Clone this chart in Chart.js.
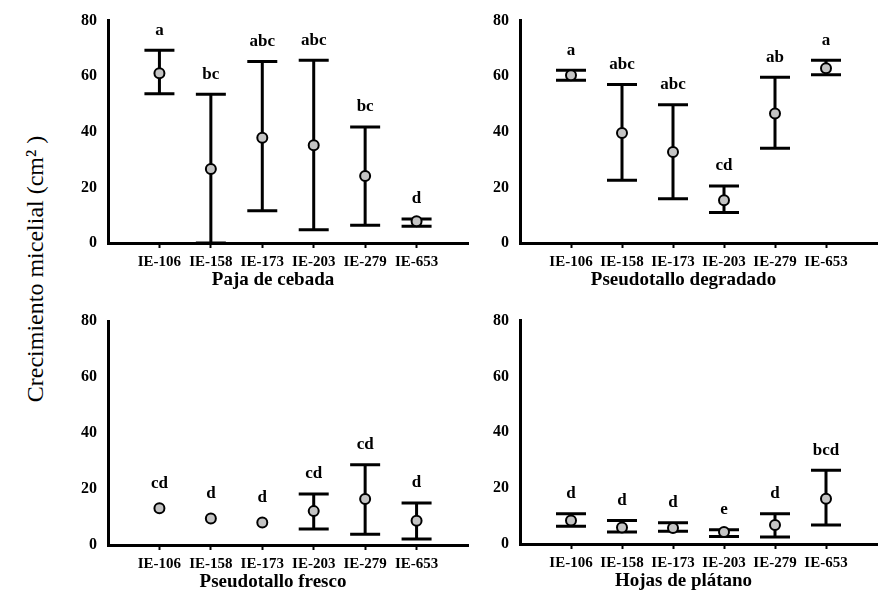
<!DOCTYPE html>
<html>
<head>
<meta charset="utf-8">
<script src="https://cdn.jsdelivr.net/npm/chart.js@4.4.1/dist/chart.umd.min.js"></script>
<style>
  html, body { margin: 0; padding: 0; background: #fff; overflow: hidden; }
  body { width: 884px; height: 599px; position: relative; }
  .panel { position: absolute; }
  #yTitle {
    position: absolute; left: 35px; top: 269px;
    transform: translate(-50%, -50%) rotate(-90deg);
    white-space: nowrap;
    font-family: 'Liberation Serif', 'Times New Roman', serif;
    font-size: 24px; color: #000;
  }
</style>
</head>
<body>
<div id="yTitle">Crecimiento micelial (cm² )</div>
<div class="panel" style="left:55px; top:0px; width:420px; height:300px;"><canvas id="c1"></canvas></div>
<div class="panel" style="left:467px; top:0px; width:417px; height:300px;"><canvas id="c2"></canvas></div>
<div class="panel" style="left:55px; top:300px; width:420px; height:299px;"><canvas id="c3"></canvas></div>
<div class="panel" style="left:467px; top:300px; width:417px; height:299px;"><canvas id="c4"></canvas></div>
<script>
const categories = ['IE-106', 'IE-158', 'IE-173', 'IE-203', 'IE-279', 'IE-653'];

// Paja de cebada
const pajaMean = [61.1, 26.6, 37.9, 35.2, 24.1, 7.8];
const pajaUpper = [69.3, 53.5, 65.3, 65.7, 41.7, 8.6];
const pajaLower = [53.7, 0, 11.6, 4.8, 6.4, 6.0];
const pajaLetters = ['a', 'bc', 'abc', 'abc', 'bc', 'd'];

// Pseudotallo degradado
const degradadoMean = [60.3, 39.6, 32.7, 15.4, 46.6, 62.9];
const degradadoUpper = [62.1, 57.0, 49.7, 20.5, 59.6, 65.7];
const degradadoLower = [58.5, 22.6, 15.9, 11.0, 34.1, 60.5];
const degradadoLetters = ['a', 'abc', 'abc', 'cd', 'ab', 'a'];

// Pseudotallo fresco (first three have no visible error bar)
const frescoMean = [13.1, 9.5, 8.0, 12.1, 16.4, 8.7];
const frescoUpper = [null, null, null, 18.2, 28.7, 15.0];
const frescoLower = [null, null, null, 5.7, 3.8, 2.1];
const frescoLetters = ['cd', 'd', 'd', 'cd', 'cd', 'd'];

// Hojas de plátano
const hojasMean = [8.4, 5.9, 5.7, 4.3, 6.8, 16.2];
const hojasUpper = [10.8, 8.4, 7.6, 5.1, 10.8, 26.4];
const hojasLower = [6.4, 4.3, 4.6, 2.7, 2.5, 6.8];
const hojasLetters = ['d', 'd', 'd', 'e', 'd', 'bcd'];

const FONT = "'Liberation Serif', 'Times New Roman', serif";

function makePanel(id, title, means, upper, lower, letters, padTop, padRight, xHeight) {
    const errorBars = {
        id: 'errorBars',
        beforeDatasetsDraw(chart) {
            const ctx = chart.ctx;
            const xs = chart.scales.x, ys = chart.scales.y;
            ctx.save();
            ctx.strokeStyle = '#000';
            ctx.lineWidth = 3;
            for (let i = 0; i < means.length; i++) {
                if (upper[i] == null) continue;
                const x = xs.getPixelForValue(i + 1);
                const yTop = ys.getPixelForValue(upper[i]);
                const yBot = ys.getPixelForValue(lower[i]);
                ctx.beginPath();
                ctx.moveTo(x, yTop); ctx.lineTo(x, yBot);
                ctx.moveTo(x - 15, yTop); ctx.lineTo(x + 15, yTop);
                ctx.moveTo(x - 15, yBot); ctx.lineTo(x + 15, yBot);
                ctx.stroke();
            }
            ctx.restore();
        },
        afterDraw(chart) {
            const ctx = chart.ctx;
            const xs = chart.scales.x, ys = chart.scales.y;
            const area = chart.chartArea;
            ctx.save();
            ctx.fillStyle = '#000';
            ctx.textAlign = 'center';
            ctx.textBaseline = 'middle';
            ctx.font = 'bold 17px ' + FONT;
            for (let i = 0; i < means.length; i++) {
                const x = xs.getPixelForValue(i + 1);
                let y;
                if (upper[i] == null) {
                    y = ys.getPixelForValue(means[i]) - 25;
                } else {
                    y = ys.getPixelForValue(upper[i]) - 20;
                }
                ctx.fillText(letters[i], x, y);
            }
            // panel title under the axis
            ctx.font = 'bold 19px ' + FONT;
            ctx.textBaseline = 'alphabetic';
            ctx.fillText(title, (area.left + area.right) / 2 - 15, area.bottom + 42);
            ctx.restore();
        }
    };

    new Chart(document.getElementById(id), {
        type: 'scatter',
        data: {
            datasets: [{
                data: means.map((m, i) => ({ x: i + 1, y: m })),
                pointRadius: 5,
                pointBorderWidth: 2,
                pointBackgroundColor: '#c4c4c4',
                pointBorderColor: '#000',
                showLine: false,
                clip: false
            }]
        },
        options: {
            responsive: true,
            maintainAspectRatio: false,
            animation: false,
            events: [],
            layout: { padding: { top: padTop, right: padRight, left: 0, bottom: 0 } },
            plugins: {
                legend: { display: false },
                tooltip: { enabled: false }
            },
            scales: {
                x: {
                    type: 'linear',
                    min: 0,
                    max: 7,
                    ticks: {
                        stepSize: 1,
                        autoSkip: false,
                        maxRotation: 0,
                        padding: 5,
                        color: '#000',
                        font: { family: FONT, size: 15, weight: 'bold' },
                        callback: v => categories[v - 1] || ''
                    },
                    grid: {
                        display: true,
                        drawOnChartArea: false,
                        drawTicks: true,
                        tickLength: 5,
                        tickWidth: 2,
                        tickColor: c => (c.tick && c.tick.value >= 1 && c.tick.value <= 6) ? '#000' : 'rgba(0,0,0,0)'
                    },
                    border: { display: true, color: '#000', width: 3 },
                    afterFit: s => { s.height = xHeight; }
                },
                y: {
                    min: 0,
                    max: 80,
                    ticks: {
                        stepSize: 20,
                        padding: 11,
                        color: '#000',
                        font: { family: FONT, size: 16, weight: 'bold' }
                    },
                    grid: { display: false, drawTicks: false },
                    border: { display: true, color: '#000', width: 3 },
                    afterFit: s => { s.width = 53; }
                }
            }
        },
        plugins: [errorBars]
    });
}

makePanel('c1', 'Paja de cebada', pajaMean, pajaUpper, pajaLower, pajaLetters, 20, 7, 57);
makePanel('c2', 'Pseudotallo degradado', degradadoMean, degradadoUpper, degradadoLower, degradadoLetters, 20, 2, 57);
makePanel('c3', 'Pseudotallo fresco', frescoMean, frescoUpper, frescoLower, frescoLetters, 21, 7, 54);
makePanel('c4', 'Hojas de plátano', hojasMean, hojasUpper, hojasLower, hojasLetters, 20, 2, 55);
</script>
</body>
</html>
